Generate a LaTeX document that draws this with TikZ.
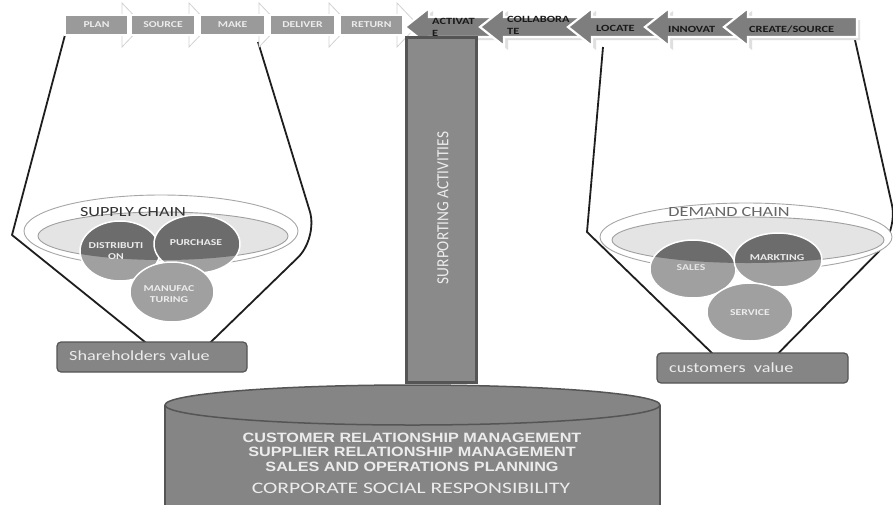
\documentclass[tikz,border=0pt]{standalone}
\usepackage{fontspec}
\setmainfont{Carlito}[FakeStretch=1.15]
\newfontfamily\widef{Carlito}[FakeStretch=1.3]
\newfontfamily\csrf{Carlito}[FakeStretch=1.35]
\newfontfamily\arialw{Liberation Sans}[FakeStretch=1.2]
\newfontfamily\condf{Carlito}[FakeStretch=0.9]
\definecolor{lchev}{HTML}{9A9A9A}
\definecolor{rchev}{HTML}{7E7E7E}
\definecolor{pillarc}{HTML}{8A8A8A}
\definecolor{darkc}{HTML}{555555}
\definecolor{boxfill}{HTML}{858585}
\definecolor{ltext}{HTML}{ECECEC}
\definecolor{cdark}{HTML}{6C6C6C}
\definecolor{clight}{HTML}{A0A0A0}
\definecolor{ellfill}{HTML}{E4E4E4}
\definecolor{funnelc}{HTML}{1E1E1E}
\tikzset{
  funnel/.style={draw=funnelc, line width=1.8pt, line join=round},
  headw/.style={fill=white, draw=gray!35, line width=0.8pt},
  rbody/.style={fill=lchev, draw=white, line width=1.6pt},
  rtxt/.style={font=\widef\bfseries\fontsize{9}{10}\selectfont, text=ltext, inner sep=0pt},
  larrow/.style={fill=rchev, draw=white, line width=2.2pt, line join=miter},
  lshadow/.style={fill=gray!25},
  ltxt/.style={font=\widef\bfseries\fontsize{9.5}{11}\selectfont, text=black!90, inner sep=0pt, align=left},
  outerell/.style={fill=white, draw=gray!70, line width=0.9pt},
  innerell/.style={fill=ellfill, draw=gray!75, line width=0.9pt},
  chainlbl/.style={font=\widef\fontsize{14}{15}\selectfont, text=black!80, inner sep=0pt},
  circlbl/.style={font=\widef\bfseries\fontsize{9}{10.5}\selectfont, text=ltext, inner sep=0pt, align=center},
  valbox/.style={fill=boxfill, draw=darkc, line width=1.2pt, rounded corners=4pt},
  valtxt/.style={font=\widef\fontsize{14}{15}\selectfont, text=ltext, inner sep=0pt, anchor=west},
  basetxt/.style={font=\arialw\bfseries\fontsize{13.5}{14}\selectfont, text=ltext, inner sep=0pt},
}
\begin{document}
\begin{tikzpicture}[x=1pt,y=-1pt]
\useasboundingbox (0,0) rectangle (893,504);
\fill[white] (0,0) rectangle (893,504);

% ---------- left funnel ----------
\draw[funnel] (65,35) -- (12,235) [rounded corners=28pt] -- (181,371) -- (318,238) [sharp corners] -- (258,42);
\draw[outerell] (161,231) ellipse [x radius=137, y radius=36];
\draw[innerell] (163,236) ellipse [x radius=125, y radius=24];
\node[chainlbl] (supply) at (133,212) {SUPPLY CHAIN};
% circles
\foreach \cx/\cy/\rx/\ry in {120/251/40/30, 197/244/43/29, 172/292/42/30}{
  \fill[clight] (\cx,\cy) ellipse [x radius=\rx, y radius=\ry];
  \begin{scope}
    \clip (163,236) ellipse [x radius=125, y radius=24];
    \fill[cdark] (\cx,\cy) ellipse [x radius=\rx, y radius=\ry];
  \end{scope}
  \draw[white, line width=1.5pt] (\cx,\cy) ellipse [x radius=\rx, y radius=\ry];
}
\node[circlbl] (distrib) at (116,251) {DISTRIBUTI\\ON};
\node[circlbl] (purchase) at (196,243) {PURCHASE};
\node[circlbl] (manuf) at (169,294) {MANUFAC\\TURING};
\draw[valbox] (57,342) rectangle (247,372);
\node[valtxt] (share) at (69,356) {Shareholders value};

% ---------- right funnel ----------
\draw[funnel] (603,47) -- (587,232) [rounded corners=28pt] -- (746,386) -- (898,232) [sharp corners] -- (855,40);
\draw[outerell] (746,237) ellipse [x radius=146, y radius=34];
\draw[innerell] (748,240) ellipse [x radius=136, y radius=23];
\node[chainlbl, text=black!60] (demand) at (729,212) {DEMAND CHAIN};
\foreach \cx/\cy/\rx/\ry in {693/269/43/29, 778/260/44/27, 750/312/43/29}{
  \fill[clight] (\cx,\cy) ellipse [x radius=\rx, y radius=\ry];
  \begin{scope}
    \clip (748,240) ellipse [x radius=136, y radius=23];
    \fill[cdark] (\cx,\cy) ellipse [x radius=\rx, y radius=\ry];
  \end{scope}
  \draw[white, line width=1.5pt] (\cx,\cy) ellipse [x radius=\rx, y radius=\ry];
}
\node[circlbl, text=gray!20] (sales) at (691,268) {SALES};
\node[circlbl] (markt) at (777,258) {MARKTING};
\node[circlbl] (service) at (750,313) {SERVICE};
\draw[valbox] (657,353) rectangle (848,383);
\node[valtxt] (cust) at (669,368) {customers\ \ value};

% ---------- top: right-pointing arrows ----------
\foreach \a/\b/\t/\n in {65/128/PLAN/plan, 131/195/SOURCE/source, 200/265/MAKE/make, 270/335/DELIVER/deliver, 340/403/RETURN/return}{
  \draw[headw] (\b-6,3) -- (\b+15,25) -- (\b-6,47) -- cycle;
  \draw[rbody] (\a,15) rectangle (\b,35);
  \node[rtxt] (\n) at ({(\a+\b)/2},25) {\t};
}

% ---------- top: left-pointing arrows ----------
\foreach \t/\e in {405/495, 480/585, 568/660, 645/740, 724/857}{
  \fill[lshadow] (\t+3,30) -- (\t+28,11) -- (\t+28,20) -- (\e+3,20) -- (\e+3,40) -- (\t+28,40) -- (\t+28,50) -- cycle;
  \draw[larrow] (\t,27) -- (\t+24,8) -- (\t+24,17) -- (\e,17) -- (\e,37) -- (\t+24,37) -- (\t+24,46) -- cycle;
}
\node[ltxt, anchor=west] (activate) at (432,21) {ACTIVAT};
\node[ltxt, anchor=west] (activate2) at (432,33) {E};
\node[ltxt, anchor=west] (collab) at (507,19) {COLLABORA};
\node[ltxt, anchor=west] (collab2) at (507,31) {TE};
\node[ltxt, anchor=west] (locate) at (596,28) {LOCATE};
\node[ltxt, anchor=west] (innov) at (668,29) {INNOVAT};
\node[ltxt, anchor=west] (create) at (749,29) {CREATE/SOURCE};

% ---------- pillar ----------
\draw[fill=pillarc, draw=darkc, line width=3pt] (406,37) rectangle (476,382);
\node[font=\condf\fontsize{17}{18}\selectfont, text=ltext, rotate=90, inner sep=0pt] (support) at (443,208) {SURPORTING ACTIVITIES};

% ---------- base cylinder ----------
\fill[boxfill] (165,405) rectangle (660,520);
\draw[darkc, line width=1.5pt] (165,405) -- (165,520) (660,405) -- (660,520);
\draw[fill=boxfill, draw=darkc, line width=1.5pt] (412.5,405) ellipse [x radius=247.5, y radius=20];
\node[basetxt] (crm) at (412,438) {CUSTOMER RELATIONSHIP MANAGEMENT};
\node[basetxt] (srm) at (412,452) {SUPPLIER RELATIONSHIP MANAGEMENT};
\node[basetxt] (sop) at (412,467) {SALES AND OPERATIONS PLANNING};
\node[font=\csrf\fontsize{16}{17}\selectfont, text=ltext, inner sep=0pt] (csr) at (411,488) {CORPORATE SOCIAL RESPONSIBILITY};
\end{tikzpicture}
\end{document}
